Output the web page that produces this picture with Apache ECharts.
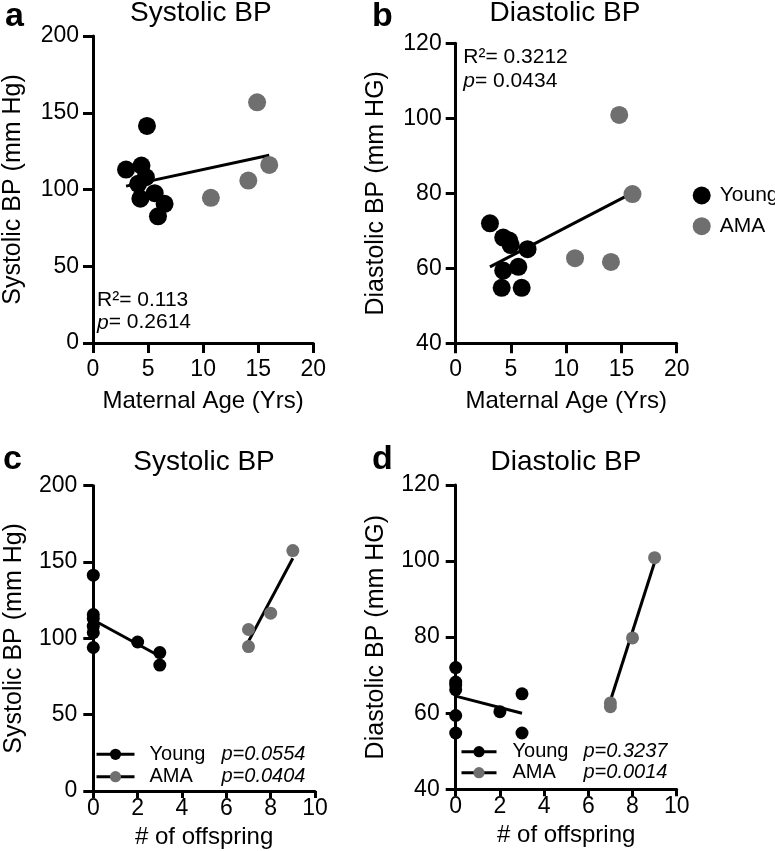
<!DOCTYPE html>
<html>
<head>
<meta charset="utf-8">
<script src="https://cdn.jsdelivr.net/npm/echarts@6/dist/echarts.min.js"></script>
<style>html,body{margin:0;padding:0;background:#fff;}#c{width:775px;height:851px;}</style>
</head>
<body>
<div id="c"></div>
<script>
// ---- Data ----
// Panel a: Systolic BP vs maternal age
const youngAgeSys = [3.0, 4.4, 4.8, 4.1, 4.3, 4.9, 5.6, 6.5, 5.9];
const youngSys = [113, 115.6, 108, 103.7, 94, 141.4, 97.6, 90.7, 82.5];
const amaAgeSys = [10.7, 14.1, 14.9, 16.0];
const amaSys = [94.6, 105.8, 156.8, 116];
const fitSysAgeX = [3.0, 16.0];
const fitSysAgeY = [102.2, 122.3];
// Panel b: Diastolic BP vs maternal age
const youngAgeDia = [3.1, 4.3, 4.85, 4.97, 6.5, 4.3, 5.67, 4.16, 5.97];
const youngDia = [72.0, 68.2, 67.4, 66.2, 65.1, 59.4, 60.4, 54.8, 54.8];
const amaAgeDia = [14.8, 16.0, 10.8, 14.05];
const amaDia = [100.9, 79.8, 62.7, 61.7];
const fitDiaAgeX = [3.1, 16.0];
const fitDiaAgeY = [60.4, 80.1];
// Panel c: Systolic BP vs # of offspring
const youngOffSys = [0, 0, 0, 0, 0, 0, 2, 3, 3];
const youngSysC = [141.4, 115.6, 113, 108, 103.7, 94, 97.6, 90.7, 82.5];
const amaOffSys = [7, 7, 8, 9];
const amaSysC = [105.8, 94.6, 116.5, 157.5];
const fitYoungSysX = [0, 3];
const fitYoungSysY = [112, 88.3];
const fitAmaSysX = [7, 9];
const fitAmaSysY = [98, 152.5];
// Panel d: Diastolic BP vs # of offspring
const youngOffDia = [0, 0, 0, 0, 0, 0, 2, 3, 3];
const youngDiaD = [72.0, 68.2, 67.4, 66.2, 59.4, 54.8, 60.4, 65.1, 54.8];
const amaOffDia = [7, 7, 8, 9];
const amaDiaD = [62.7, 61.7, 79.8, 100.9];
const fitYoungDiaX = [0, 3];
const fitYoungDiaY = [64.5, 60.0];
const fitAmaDiaX = [7, 9];
const fitAmaDiaY = [63.3, 99.7];
// Labels
const groups = ['Young', 'AMA'];
const pSysOff = ['p=0.0554', 'p=0.0404'];
const pDiaOff = ['p=0.3237', 'p=0.0014'];

// ---- Styling ----
const FONT = "'Liberation Sans', Arial, Helvetica, sans-serif";
const BLACK = '#000000';
const GRAY = '#6f6f6f';
const zip = (xs, ys) => xs.map((x, i) => [x, ys[i]]);

function xAx(idx, max, interval, name, labelMargin, nameGap, tickLen) {
  return {
    type: 'value', gridIndex: idx, min: 0, max: max, interval: interval,
    name: name, nameLocation: 'middle', nameGap: nameGap,
    nameTextStyle: { fontFamily: FONT, fontSize: 24, color: BLACK },
    axisLine: { onZero: false, lineStyle: { color: BLACK, width: 3 } },
    axisTick: { length: tickLen, lineStyle: { color: BLACK, width: 3 } },
    axisLabel: { fontFamily: FONT, fontSize: 23, color: BLACK, margin: labelMargin },
    splitLine: { show: false }
  };
}
function yAx(idx, min, max, interval, name, labelMargin) {
  return {
    type: 'value', gridIndex: idx, min: min, max: max, interval: interval,
    name: name, nameLocation: 'middle', nameGap: 67,
    nameTextStyle: { fontFamily: FONT, fontSize: 25, color: BLACK },
    axisLine: { onZero: false, lineStyle: { color: BLACK, width: 3 } },
    axisTick: { length: 10, lineStyle: { color: BLACK, width: 3 } },
    axisLabel: { fontFamily: FONT, fontSize: 23, color: BLACK, margin: labelMargin },
    splitLine: { show: false }
  };
}
function scatter(name, idx, data, color, size) {
  return { type: 'scatter', name: name, xAxisIndex: idx, yAxisIndex: idx, data: data,
    symbol: 'circle', symbolSize: size, itemStyle: { color: color, opacity: 1 }, z: 3, silent: true };
}
function fit(name, idx, data, color) {
  return { type: 'line', name: name, xAxisIndex: idx, yAxisIndex: idx, data: data,
    symbol: 'circle', showSymbol: false, symbolSize: 11,
    itemStyle: { color: color }, lineStyle: { color: BLACK, width: 3 }, z: 2, silent: true };
}
function txt(x, y, text, size, opts) {
  opts = opts || {};
  return { type: 'text', x: x, y: y, silent: true,
    style: Object.assign({ text: text, fill: BLACK, font: (opts.bold ? 'bold ' : '') + size + 'px ' + FONT,
      align: opts.align || 'left', verticalAlign: 'middle' }, opts.rich ? { rich: opts.rich } : {}) };
}
const italRich = { i: { fontStyle: 'italic', fontSize: 21, fontFamily: FONT, fill: BLACK } };

function offLegend(left, top, iw, gap, names, pvals, nWidth, pad) {
  return { left: left, top: top, padding: 0, orient: 'vertical', itemWidth: iw, itemHeight: 14, itemGap: gap,
    selectedMode: false, data: names,
    lineStyle: { color: BLACK, width: 3 },
    formatter: n => { const k = names.indexOf(n); return '{n|' + groups[k] + '}{p|' + pvals[k] + '}'; },
    textStyle: { fontFamily: FONT, fontSize: 20, color: BLACK,
      rich: { n: { fontFamily: FONT, fontSize: 20, color: BLACK, width: nWidth, padding: [0, 0, 0, pad] },
              p: { fontFamily: FONT, fontSize: 20, color: BLACK, fontStyle: 'italic' } } } };
}

const option = {
  backgroundColor: '#ffffff',
  animation: false,
  grid: [
    { left: 91.7, top: 36, width: 221.6, height: 307 },
    { left: 455.7, top: 43.3, width: 221, height: 300 },
    { left: 93.3, top: 485.7, width: 221.7, height: 305.3 },
    { left: 455.7, top: 485, width: 221, height: 304.3 }
  ],
  xAxis: [
    xAx(0, 20, 5, 'Maternal Age (Yrs)', 15, 46, 10),
    xAx(1, 20, 5, 'Maternal Age (Yrs)', 15, 46, 10),
    xAx(2, 10, 2, '# of offspring', 6, 34, 7),
    xAx(3, 10, 2, '# of offspring', 6, 34, 7)
  ],
  yAxis: [
    yAx(0, 0, 200, 50, 'Systolic BP (mm Hg)', 14),
    yAx(1, 40, 120, 20, 'Diastolic BP (mm HG)', 14),
    yAx(2, 0, 200, 50, 'Systolic BP (mm Hg)', 16),
    yAx(3, 40, 120, 20, 'Diastolic BP (mm HG)', 16)
  ],
  legend: [
    { left: 692.7, top: 185, padding: 0, orient: 'vertical', itemWidth: 18, itemHeight: 18, itemGap: 9.7,
      selectedMode: false, data: [{ name: 'Young', icon: 'circle' }, { name: 'AMA', icon: 'circle' }],
      formatter: n => '{n|' + n + '}',
      textStyle: { fontFamily: FONT, fontSize: 21, color: BLACK,
        rich: { n: { fontFamily: FONT, fontSize: 21, color: BLACK, padding: [0, 0, 0, 4] } } } },
    offLegend(95, 744.3, 38, 2.4, ['Young_c', 'AMA_c'], pSysOff, 72, 10),
    offLegend(460, 741.7, 35, 1, ['Young_d', 'AMA_d'], pDiaOff, 71, 11)
  ],
  series: [
    scatter('Young', 0, zip(youngAgeSys, youngSys), BLACK, 18),
    scatter('AMA', 0, zip(amaAgeSys, amaSys), GRAY, 18),
    fit('fitA', 0, zip(fitSysAgeX, fitSysAgeY), BLACK),
    scatter('Young', 1, zip(youngAgeDia, youngDia), BLACK, 18),
    scatter('AMA', 1, zip(amaAgeDia, amaDia), GRAY, 18),
    fit('fitB', 1, zip(fitDiaAgeX, fitDiaAgeY), BLACK),
    scatter('cY', 2, zip(youngOffSys, youngSysC), BLACK, 13),
    scatter('cA', 2, zip(amaOffSys, amaSysC), GRAY, 13),
    fit('Young_c', 2, zip(fitYoungSysX, fitYoungSysY), BLACK),
    fit('AMA_c', 2, zip(fitAmaSysX, fitAmaSysY), GRAY),
    scatter('dY', 3, zip(youngOffDia, youngDiaD), BLACK, 13),
    scatter('dA', 3, zip(amaOffDia, amaDiaD), GRAY, 13),
    fit('Young_d', 3, zip(fitYoungDiaX, fitYoungDiaY), BLACK),
    fit('AMA_d', 3, zip(fitAmaDiaX, fitAmaDiaY), GRAY)
  ],
  graphic: [
    txt(5, 16.4, 'a', 34, { bold: true }),
    txt(372, 16.4, 'b', 34, { bold: true }),
    txt(3, 460, 'c', 34, { bold: true }),
    txt(372, 460, 'd', 34, { bold: true }),
    txt(200.8, 12.9, 'Systolic BP', 28, { align: 'center' }),
    txt(565, 12.9, 'Diastolic BP', 28, { align: 'center' }),
    txt(204, 462, 'Systolic BP', 28, { align: 'center' }),
    txt(566, 462, 'Diastolic BP', 28, { align: 'center' }),
    txt(97, 300, 'R\u00B2= 0.113', 21),
    txt(97, 322.7, '{i|p}= 0.2614', 21, { rich: italRich }),
    txt(463.3, 57.7, 'R\u00B2= 0.3212', 21),
    txt(463.3, 81, '{i|p}= 0.0434', 21, { rich: italRich })
  ]
};
const chart = echarts.init(document.getElementById('c'), null, { renderer: 'canvas' });
chart.setOption(option);
</script>
</body>
</html>
